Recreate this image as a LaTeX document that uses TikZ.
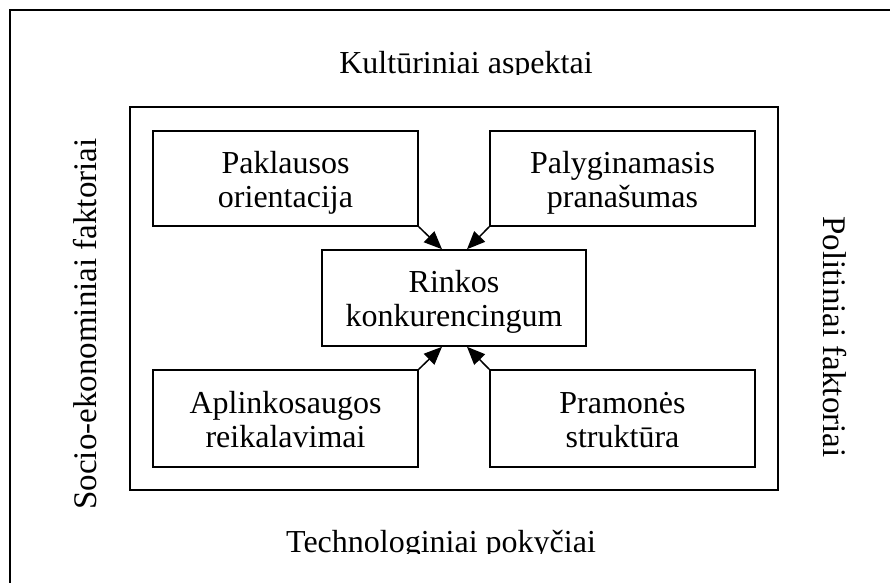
\documentclass[tikz,border=0pt]{standalone}
\usepackage{fontspec}
\setmainfont{Liberation Serif}
\usetikzlibrary{arrows.meta,calc}
\newcommand\twolines[2]{\begin{tabular}[t]{@{}c@{}}#1\\#2\end{tabular}}
\begin{document}
\begin{tikzpicture}[x=1pt,y=-1pt,
  lbl/.style={font=\fontsize{32}{34}\selectfont, inner sep=0pt},
  box/.style={draw, line width=1.6pt, inner sep=0pt, minimum width=265pt, minimum height=95pt,
    font=\fontsize{32}{34}\selectfont, text height=30pt, text depth=40.6pt},
  arr/.style={line width=1.5pt, -{Triangle[length=18pt,width=15pt]}}]
\useasboundingbox (0,0) rectangle (890,582);
\clip (0,0) rectangle (890,582);
\draw[line width=1.6pt] (10,10) rectangle (900,600);
\node[draw, line width=1.6pt, minimum width=648pt, minimum height=383pt] (frame) at (454,298.5) {};
\node[box] (p) at (285.5,178.5) {\twolines{Paklausos}{orientacija}};
\node[box] (q) at (622.5,178.5) {\twolines{Palyginamasis}{pranašumas}};
\node[box, minimum width=264pt, minimum height=96pt] (c) at (454,298) {\twolines{Rinkos}{konkurencingum}};
\node[box, minimum height=97pt] (a) at (285.5,418.5) {\twolines{Aplinkosaugos}{reikalavimai}};
\node[box, minimum height=97pt] (s) at (622.5,418.5) {\twolines{Pramonės}{struktūra}};
\draw[arr] (p.south east) -- ($(c.north)+(-12,0)$);
\draw[arr] (q.south west) -- ($(c.north)+(13,0)$);
\draw[arr] (a.north east) -- ($(c.south)+(-12,0)$);
\draw[arr] (s.north west) -- ($(c.south)+(13,0)$);
\node[lbl, rotate=90, anchor=base, font=\fontsize{33}{34}\selectfont] (left) at (96,324) {Socio-ekonominiai faktoriai};
\node[lbl, rotate=-90, anchor=base, font=\fontsize{33}{34}\selectfont] (right) at (823,337) {Politiniai faktoriai};
\begin{scope}
\clip (0,0) rectangle (890,74.5);
\node[lbl, anchor=base] (top) at (466,73) {Kultūriniai aspektai};
\end{scope}
\begin{scope}
\clip (0,0) rectangle (890,553.5);
\node[lbl, anchor=base] (bottom) at (441,552.7) {Technologiniai pokyčiai};
\end{scope}
\end{tikzpicture}
\end{document}
